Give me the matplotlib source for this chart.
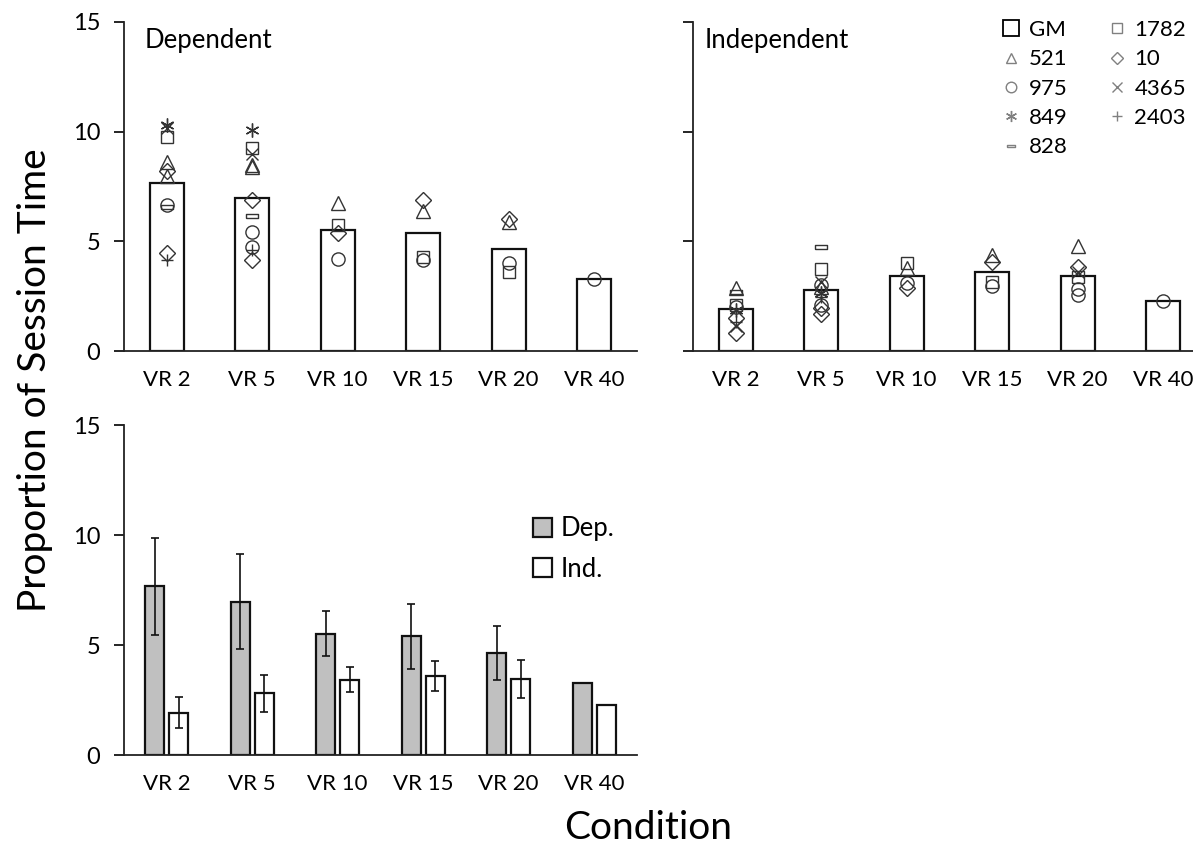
import numpy as np
import matplotlib
matplotlib.use('Agg')
import matplotlib.pyplot as plt
from matplotlib.lines import Line2D

plt.rcParams['font.family'] = ['Lato', 'DejaVu Sans']

conditions = ['VR 2', 'VR 5', 'VR 10', 'VR 15', 'VR 20', 'VR 40']

# group means (bars) and error bars
dep_mean = [7.66, 6.97, 5.52, 5.39, 4.64, 3.27]
ind_mean = [1.93, 2.80, 3.43, 3.60, 3.44, 2.27]
dep_err = [2.20, 2.17, 1.03, 1.46, 1.23, np.nan]
ind_err = [0.71, 0.85, 0.57, 0.69, 0.87, np.nan]

# individual subjects, long format: condition index, subject, value
dep_cond = [0, 0, 0, 0, 0, 0, 0, 0, 0, 0,
            1, 1, 1, 1, 1, 1, 1, 1, 1, 1, 1,
            2, 2, 2, 2,
            3, 3, 3, 3,
            4, 4, 4, 4,
            5]
dep_subj = ['849', '4365', '1782', '521', '10', '521', '975', '828', '10', '2403',
            '849', '1782', '4365', '521', '521', '10', '828', '975', '975', '2403', '10',
            '521', '1782', '10', '975',
            '10', '521', '1782', '975',
            '10', '521', '975', '1782',
            '975']
dep_val = [10.3, 10.15, 9.75, 8.6, 8.2, 8.0, 6.65, 6.55, 4.45, 4.15,
           10.08, 9.24, 9.0, 8.5, 8.4, 6.89, 6.15, 5.44, 4.76, 4.6, 4.15,
           6.73, 5.75, 5.4, 4.2,
           6.9, 6.4, 4.3, 4.15,
           6.0, 5.9, 4.0, 3.6,
           3.28]

ind_cond = [0, 0, 0, 0, 0, 0, 0, 0, 0,
            1, 1, 1, 1, 1, 1, 1, 1, 1, 1,
            2, 2, 2, 2,
            3, 3, 3, 3,
            4, 4, 4, 4, 4, 4,
            5]
ind_subj = ['521', '828', '1782', '975', '849', '10', '2403', '4365', '10',
            '828', '1782', '4365', '975', '521', '849', '2403', '975', '10', '10',
            '1782', '521', '975', '10',
            '521', '10', '1782', '975',
            '521', '10', '4365', '1782', '975', '975',
            '975']
ind_val = [2.86, 2.7, 2.1, 1.99, 1.85, 1.49, 1.3, 1.12, 0.8,
           4.75, 3.74, 3.15, 3.0, 2.93, 2.65, 2.48, 2.1, 1.96, 1.7,
           4.03, 3.77, 3.12, 2.86,
           4.38, 4.07, 3.16, 2.96,
           4.79, 3.84, 3.6, 3.39, 2.81, 2.55,
           2.29]

legend_order = ['GM', '521', '975', '849', '828', '1782', '10', '4365', '2403']

dash = [(-1, -0.3), (1, -0.3), (1, 0.3), (-1, 0.3), (-1, -0.3)]
mk = {'GM': 's', '1782': 's', '521': '^', '10': 'D', '975': 'o',
      '4365': 'x', '849': (6, 2, 0), '2403': '+', '828': dash}
msz = {'GM': 11, '1782': 9, '521': 9.5, '10': 8, '975': 9.5,
       '4365': 8.5, '849': 10, '2403': 8.5, '828': 8}

W, H = 1193, 855
fig = plt.figure(figsize=(W / 100, H / 100), dpi=100)


def box(l, r, b, t):
    return [l / W, 1 - b / H, (r - l) / W, (b - t) / H]


ax1 = fig.add_axes(box(124, 637, 351, 22))
ax2 = fig.add_axes(box(693, 1193, 351, 22))
ax3 = fig.add_axes(box(124, 637, 755, 425))

x = np.arange(len(conditions))


def style(ax, labels=True, xmax=5.5):
    ax.set_xlim(-0.5, xmax)
    ax.set_ylim(0, 15)
    ax.set_yticks([0, 5, 10, 15])
    for s in ['top', 'right']:
        ax.spines[s].set_visible(False)
    for s in ['left', 'bottom']:
        ax.spines[s].set_linewidth(1.3)
        ax.spines[s].set_color('#222222')
    ax.set_xticks(x)
    ax.set_xticklabels(conditions, fontsize=16)
    ax.tick_params(axis='x', length=0, pad=14)
    ax.tick_params(axis='y', direction='out', length=7, width=1.2,
                   labelsize=17, pad=10, labelleft=labels)


def dots(ax, cond, subj, val):
    for c, s, v in zip(cond, subj, val):
        ax.plot(c, v, linestyle='none', marker=mk[s], ms=msz[s], mfc='none',
                mec='#333333', mew=1.0, zorder=3)


ax1.bar(x, dep_mean, width=0.4, color='white', edgecolor='#111111', lw=1.6, zorder=2)
dots(ax1, dep_cond, dep_subj, dep_val)
style(ax1)
ax1.text(0.041, 0.945, 'Dependent', transform=ax1.transAxes, fontsize=18.5, va='center')

ax2.bar(x, ind_mean, width=0.4, color='white', edgecolor='#111111', lw=1.6, zorder=2)
dots(ax2, ind_cond, ind_subj, ind_val)
style(ax2, labels=False, xmax=5.35)
ax2.text(0.024, 0.945, 'Independent', transform=ax2.transAxes, fontsize=18.5, va='center')

handles = []
for s in legend_order:
    if s == 'GM':
        handles.append(Line2D([], [], linestyle='none', marker='s', ms=11, mfc='none',
                              mec='black', mew=1.3, label=s))
    else:
        handles.append(Line2D([], [], linestyle='none', marker=mk[s], ms=msz[s] * 0.8,
                              mfc='none', mec='#808080', mew=1.0, label=s))
fig.legend(handles=handles, ncol=2, loc='upper left', bbox_to_anchor=(1000 / W, 1 - 20 / H),
           frameon=False, fontsize=16, handlelength=1.0, handletextpad=0.3,
           columnspacing=1.7, labelspacing=0.42, borderpad=0, borderaxespad=0)

off = 0.14
ax3.bar(x - off, dep_mean, width=0.22, color='#c0c0c0', edgecolor='#111111', lw=1.6,
        zorder=2, label='Dep.')
ax3.bar(x + off, ind_mean, width=0.22, color='white', edgecolor='#111111', lw=1.6,
        zorder=2, label='Ind.')
ok = ~np.isnan(dep_err)
ax3.errorbar((x - off)[ok], np.array(dep_mean)[ok], yerr=np.array(dep_err)[ok],
             fmt='none', ecolor='#111111', elinewidth=1.2, capsize=3, capthick=1.2, zorder=3)
ok = ~np.isnan(ind_err)
ax3.errorbar((x + off)[ok], np.array(ind_mean)[ok], yerr=np.array(ind_err)[ok],
             fmt='none', ecolor='#111111', elinewidth=1.2, capsize=3, capthick=1.2, zorder=3)
style(ax3)
ax3.legend(loc='upper left', bbox_to_anchor=(0.797, 0.723), frameon=False, fontsize=18.5,
           handlelength=0.75, handleheight=0.75, handletextpad=0.35, labelspacing=0.6,
           borderpad=0, borderaxespad=0)

fig.text(35 / W, 1 - 380 / H, 'Proportion of Session Time', rotation=90,
         fontsize=28, ha='center', va='center')
fig.text(648 / W, 1 - 828 / H, 'Condition', fontsize=28, ha='center', va='center')

fig.savefig('out.png', dpi=100)
